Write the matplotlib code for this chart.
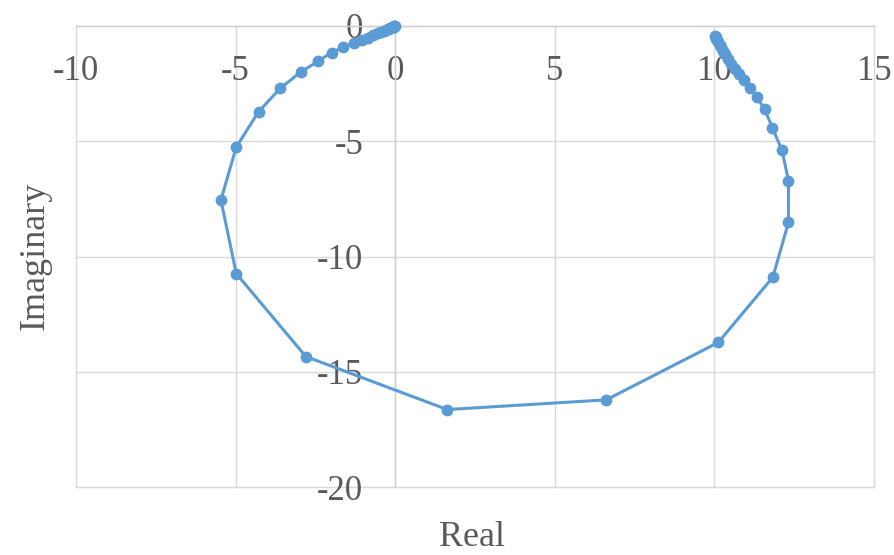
import matplotlib
matplotlib.use("Agg")
import matplotlib.pyplot as plt

# Nyquist locus: real and imaginary parts, from the low-frequency end near 10 - 0.4j
# around the loop to the origin
real_part = [
    10.02, 10.04, 10.06, 10.09, 10.12, 10.16, 10.21, 10.27, 10.34, 10.42,
    10.52, 10.63, 10.76, 10.93, 11.10, 11.33, 11.58, 11.82, 12.12, 12.32,
    12.32, 11.83, 10.12, 6.61, 1.63, -2.80, -4.98, -5.46, -4.98, -4.28,
    -3.60, -2.96, -2.43, -1.99, -1.62, -1.30, -1.05, -0.85, -0.68, -0.55,
    -0.44, -0.35, -0.28, -0.22, -0.17, -0.13, -0.10, -0.07, -0.05, -0.03, 0.00,
]
imag_part = [
    -0.43, -0.48, -0.55, -0.62, -0.71, -0.81, -0.93, -1.07, -1.23, -1.42,
    -1.63, -1.86, -2.10, -2.36, -2.68, -3.10, -3.62, -4.43, -5.40, -6.71,
    -8.52, -10.90, -13.73, -16.22, -16.64, -14.34, -10.74, -7.55, -5.25, -3.72,
    -2.70, -2.00, -1.54, -1.15, -0.92, -0.74, -0.61, -0.50, -0.40, -0.32,
    -0.26, -0.21, -0.17, -0.13, -0.10, -0.08, -0.06, -0.04, -0.03, -0.02, 0.00,
]

x_ticks = [-10, -5, 0, 5, 10, 15]
y_ticks = [0, -5, -10, -15, -20]

plt.rcParams["font.family"] = ["Liberation Serif", "DejaVu Serif"]
plt.rcParams["axes.unicode_minus"] = False

text_color = "#595959"
grid_color = "#D9D9D9"
line_color = "#5B9BD5"

fig = plt.figure(figsize=(8.95, 5.55), dpi=100)
ax = fig.add_axes([76 / 895, 1 - 487 / 555, (874 - 76) / 895, (487 - 26) / 555])

ax.plot(real_part, imag_part, color=line_color, lw=2.2, marker="o",
        markersize=8.5, markeredgewidth=0, zorder=3, clip_on=False)

ax.set_xlim(-10, 15)
ax.set_ylim(-20, 0)
ax.set_xticks(x_ticks)
ax.set_yticks(y_ticks)
ax.set_xticklabels([str(v) for v in x_ticks])
ax.set_yticklabels([str(v) for v in y_ticks])

# axes cross at the origin; the outer box is made of gridlines
ax.spines["bottom"].set_position(("data", 0))
ax.spines["left"].set_position(("data", 0))
ax.spines["top"].set_visible(False)
ax.spines["right"].set_visible(False)
for side in ("bottom", "left"):
    ax.spines[side].set_color("#CFCFCF")
    ax.spines[side].set_linewidth(1.0)

ax.grid(True, color=grid_color, linewidth=1.0, zorder=0)
ax.set_axisbelow(True)
for gl in ax.get_xgridlines() + ax.get_ygridlines():
    gl.set_clip_on(False)
ax.tick_params(axis="x", length=0, pad=21, labelsize=25, labelcolor=text_color)
ax.tick_params(axis="y", length=0, pad=23, labelsize=25, labelcolor=text_color)

fig.text(472 / 895, 1 - 537 / 555, "Real", ha="center", va="center",
         fontsize=26, color=text_color)
fig.text(35 / 895, 1 - 256 / 555, "Imaginary", ha="center", va="center",
         rotation=90, fontsize=26, color=text_color)

fig.savefig("out.png", dpi=100)
